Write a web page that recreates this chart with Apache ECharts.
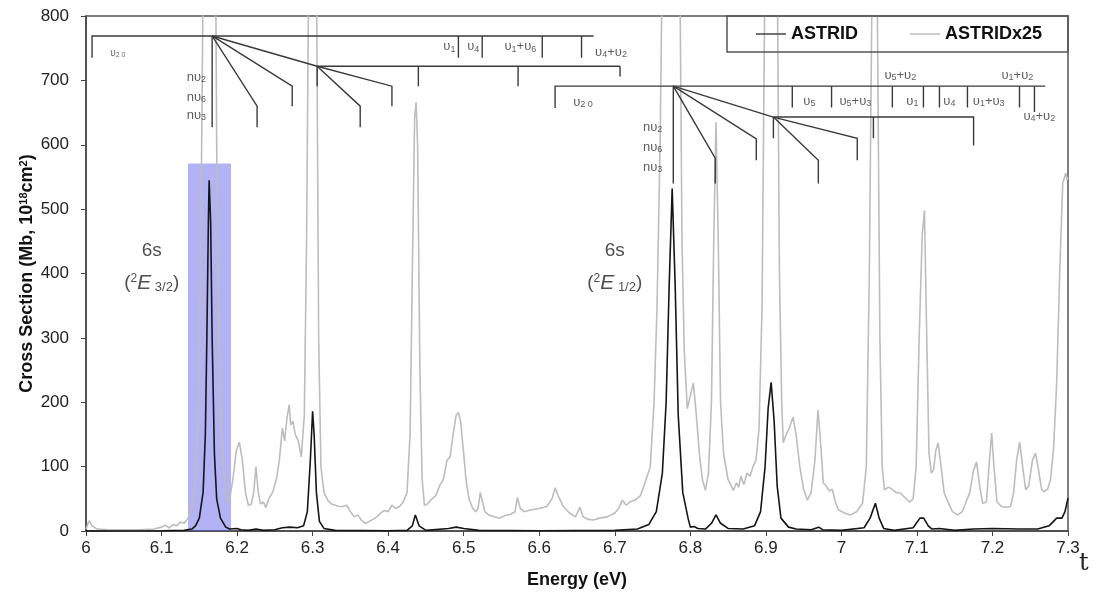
<!DOCTYPE html>
<html><head><meta charset="utf-8">
<script src="https://cdn.jsdelivr.net/npm/echarts@6/dist/echarts.min.js"></script>
<style>html,body{margin:0;padding:0;background:#fff}#c{width:1096px;height:601px}</style>
</head><body><div id="c"></div>
<script>
// ---------- DATA ----------
const seriesNames = ['ASTRID', 'ASTRIDx25'];
const xTickValues = [6, 6.1, 6.2, 6.3, 6.4, 6.5, 6.6, 6.7, 6.8, 6.9, 7, 7.1, 7.2, 7.3];
const yTickValues = [0, 100, 200, 300, 400, 500, 600, 700, 800];

// ASTRID (black) energy / cross-section
const astridE = [6.00,6.10,6.13,6.14,6.145,6.15,6.155,6.158,6.160,6.162,6.163,6.165,6.167,6.170,6.173,6.178,6.185,6.19,6.20,6.205,6.215,6.225,6.235,6.25,6.26,6.27,6.28,6.288,6.293,6.297,6.300,6.302,6.305,6.309,6.315,6.33,6.40,6.425,6.432,6.436,6.441,6.45,6.48,6.49,6.50,6.52,6.6,6.7,6.73,6.745,6.755,6.763,6.768,6.772,6.776,6.780,6.784,6.79,6.797,6.80,6.805,6.81,6.82,6.828,6.834,6.84,6.85,6.87,6.885,6.893,6.899,6.903,6.907,6.911,6.915,6.92,6.93,6.94,6.96,6.97,6.975,7.0,7.03,7.038,7.045,7.05,7.056,7.07,7.095,7.104,7.109,7.115,7.12,7.13,7.15,7.175,7.2,7.235,7.26,7.275,7.285,7.292,7.296,7.300];
const astridS = [0,0.5,1,3,8,20,60,150,300,480,545,480,300,120,50,20,6,3,4,2,1,3,1,2,5,6,5,8,30,110,186,150,60,15,4,1,0.5,1,8,25,8,1,4,6,4,1,0.5,1,3,10,30,90,200,380,532,380,180,60,20,6,7,4,3,12,25,12,4,3,8,30,100,190,231,170,70,20,6,3,2,6,2,1,5,20,43,20,4,1,5,20,20,8,3,4,1,3,4,3,3,8,20,20,30,51];

// ASTRID x 25 (grey)
const astrid25E = [6.000,6.004,6.008,6.015,6.03,6.05,6.07,6.09,6.10,6.105,6.11,6.115,6.12,6.125,6.13,6.135,6.14,6.145,6.149,6.152,6.155,6.16,6.165,6.17,6.173,6.176,6.179,6.182,6.185,6.188,6.191,6.195,6.199,6.203,6.207,6.211,6.215,6.219,6.222,6.225,6.228,6.231,6.235,6.238,6.242,6.247,6.252,6.256,6.26,6.263,6.266,6.269,6.271,6.274,6.277,6.281,6.285,6.289,6.292,6.295,6.30,6.305,6.308,6.311,6.315,6.32,6.325,6.33,6.335,6.34,6.345,6.35,6.355,6.36,6.365,6.37,6.375,6.38,6.385,6.39,6.395,6.40,6.405,6.41,6.415,6.42,6.425,6.429,6.432,6.435,6.437,6.439,6.442,6.445,6.448,6.452,6.458,6.463,6.468,6.473,6.478,6.482,6.486,6.49,6.493,6.496,6.50,6.503,6.507,6.512,6.516,6.519,6.522,6.525,6.528,6.533,6.54,6.548,6.555,6.562,6.568,6.571,6.575,6.58,6.59,6.60,6.61,6.617,6.621,6.625,6.632,6.64,6.648,6.654,6.658,6.665,6.672,6.68,6.69,6.70,6.705,6.71,6.715,6.72,6.727,6.734,6.74,6.747,6.752,6.756,6.76,6.763,6.77,6.776,6.782,6.786,6.789,6.792,6.796,6.80,6.804,6.808,6.812,6.816,6.82,6.824,6.828,6.831,6.834,6.837,6.84,6.844,6.85,6.857,6.861,6.864,6.867,6.871,6.875,6.879,6.883,6.887,6.891,6.895,6.899,6.907,6.915,6.918,6.921,6.923,6.927,6.931,6.936,6.94,6.945,6.95,6.955,6.96,6.965,6.969,6.973,6.976,6.98,6.984,6.988,6.992,6.996,7.004,7.012,7.02,7.028,7.033,7.037,7.041,7.044,7.047,7.051,7.054,7.057,7.062,7.066,7.072,7.078,7.084,7.09,7.095,7.099,7.103,7.107,7.11,7.113,7.116,7.119,7.122,7.125,7.128,7.132,7.136,7.14,7.147,7.154,7.16,7.165,7.17,7.175,7.179,7.183,7.187,7.192,7.196,7.199,7.202,7.206,7.212,7.218,7.224,7.228,7.232,7.236,7.24,7.244,7.248,7.253,7.257,7.261,7.265,7.268,7.273,7.277,7.281,7.285,7.289,7.293,7.297,7.299,7.30];
const astrid25S = [3,16,8,3,2,2,2,3,6,9,5,10,8,14,12,20,35,80,200,450,850,2000,3000,1200,600,300,160,100,60,45,55,85,125,138,110,60,40,42,60,100,60,42,45,36,50,60,80,110,160,140,175,196,165,170,150,140,115,180,450,900,4000,900,300,100,60,48,42,40,38,38,40,30,22,25,16,12,15,18,22,28,32,30,40,35,38,45,60,150,400,640,666,600,250,80,40,42,50,55,70,80,110,115,150,180,184,170,120,80,50,35,30,35,60,45,30,25,22,20,24,26,30,52,35,30,33,35,38,50,67,55,38,28,22,37,22,18,17,20,22,28,35,48,40,45,48,55,75,100,200,350,600,900,5000,13000,5000,900,450,280,190,210,230,180,120,80,63,90,200,450,635,450,200,120,80,63,75,68,85,72,90,85,100,110,160,350,900,6000,900,400,200,137,150,160,177,150,100,65,48,60,110,188,130,75,70,62,65,45,33,28,25,30,43,100,400,900,1100,900,300,100,64,68,66,60,59,52,45,50,100,300,460,498,300,120,90,95,125,137,100,60,48,30,25,30,45,60,95,107,70,43,45,110,152,100,45,38,37,38,60,110,138,100,64,70,110,121,95,65,61,65,80,130,230,400,540,556,545,550];

// highlighted region (energy range, cross-section top)
const highlightE = [6.135, 6.192];
const highlightTop = 571;

// vibrational progression combs, in (energy, cross section)
const combPaths = [
  // 6s(2E3/2) progression
  [[6.008,735],[6.008,769],[6.672,769]],
  [[6.167,769],[6.167,627]],
  [[6.493,769],[6.493,735]],
  [[6.5245,769],[6.5245,735]],
  [[6.604,769],[6.604,735]],
  [[6.656,769],[6.656,735]],
  [[6.167,769],[6.2265,660],[6.2265,627]],
  [[6.167,769],[6.273,691],[6.273,660]],
  [[6.167,769],[6.306,722]],
  [[6.306,722],[6.707,722]],
  [[6.306,722],[6.306,691]],
  [[6.44,722],[6.44,691]],
  [[6.572,722],[6.572,691]],
  [[6.707,722],[6.707,706]],
  [[6.306,722],[6.363,660],[6.363,627]],
  [[6.306,722],[6.405,691],[6.405,660]],
  // 6s(2E1/2) progression
  [[6.621,657],[6.621,691],[7.270,691]],
  [[6.7775,691],[6.7775,540]],
  [[6.7775,691],[6.833,579],[6.833,540]],
  [[6.7775,691],[6.8874,609],[6.8874,576]],
  [[6.7775,691],[6.910,643]],
  [[6.910,643],[7.175,643],[7.175,599]],
  [[6.910,643],[6.910,610]],
  [[7.0424,643],[7.0424,610]],
  [[6.910,643],[6.9695,576],[6.9695,540]],
  [[6.910,643],[7.021,610],[7.021,576]],
  [[6.935,691],[6.935,658]],
  [[6.987,691],[6.987,658]],
  [[7.0675,691],[7.0675,658]],
  [[7.1086,691],[7.1086,658]],
  [[7.1298,691],[7.1298,658]],
  [[7.1669,691],[7.1669,658]],
  [[7.2358,691],[7.2358,658]],
  [[7.2556,691],[7.2556,651]]
];

// comb labels: [energy, cross section, text]
const combLabelsCenter = [
  [6.481,752,'υ{s|1}'],[6.5126,752,'υ{s|4}'],[6.575,752,'υ{s|1}+υ{s|6}'],[6.695,744,'υ{s|4}+υ{s|2}'],
  [6.9576,668,'υ{s|5}'],[7.0185,668,'υ{s|5}+υ{s|3}'],[7.078,708,'υ{s|5}+υ{s|2}'],[7.094,668,'υ{s|1}'],
  [7.143,668,'υ{s|4}'],[7.195,668,'υ{s|1}+υ{s|3}'],[7.233,708,'υ{s|1}+υ{s|2}'],[7.262,644,'υ{s|4}+υ{s|2}']
];
const combLabelsRight = [
  [6.159,705,'nυ{s|2}'],[6.159,674,'nυ{s|6}'],[6.159,646,'nυ{s|3}'],
  [6.763,627,'nυ{s|2}'],[6.763,596,'nυ{s|6}'],[6.763,565,'nυ{s|3}']
];
const combLabelsLeft = [[6.032,742,'{t|υ}{ts|2 0}'],[6.645,666,'υ{s|2 0}']];
const stateLabels = [
  [6.087,436,'6s'],[6.087,385,'({sp|2}{it|E}{sb| 3/2})'],
  [6.700,436,'6s'],[6.700,385,'({sp|2}{it|E}{sb| 1/2})']
];

// ---------- CHART ----------
const zip = (a, b) => a.map((v, i) => [v, b[i]]);
const FONT = 'Liberation Sans, Arial, sans-serif';
const subRich = { s: { fontSize: 9, verticalAlign: 'bottom', fontFamily: FONT, color: '#333', padding: [5, 0, 0, 0] },
                  t: { fontSize: 10, fontFamily: FONT, color: '#444' },
                  ts: { fontSize: 7, fontFamily: FONT, color: '#444', padding: [3, 0, 0, 0] } };

function labelSeries(list, align, fontSize) {
  return {
    type: 'scatter', symbolSize: 1, silent: true, z: 6,
    itemStyle: { color: 'rgba(0,0,0,0)' },
    label: { show: true, position: 'inside', align: align, verticalAlign: 'middle',
      fontFamily: FONT, fontSize: fontSize, color: '#333', rich: subRich,
      formatter: p => p.data.txt },
    data: list.map(d => ({ value: [d[0], d[1]], txt: d[2] }))
  };
}

const chart = echarts.init(document.getElementById('c'));
chart.setOption({
  animation: false,
  backgroundColor: '#fff',
  grid: { left: 86, right: 28, top: 16, bottom: 70, show: true, borderColor: '#555', borderWidth: 1.5, backgroundColor: 'transparent' },
  legend: {
    data: seriesNames, left: 727, top: 16, padding: [8, 26, 8, 29], itemGap: 52,
    icon: 'rect', itemWidth: 30, itemHeight: 1.5, borderColor: '#555', borderWidth: 1.5,
    textStyle: { fontFamily: FONT, fontWeight: 'bold', fontSize: 18, color: '#111', lineHeight: 20 }
  },
  xAxis: {
    type: 'value', min: 6, max: 7.3, interval: 0.1,
    name: 'Energy (eV)', nameLocation: 'middle', nameGap: 40,
    nameTextStyle: { fontFamily: FONT, fontWeight: 'bold', fontSize: 18, color: '#111' },
    axisLine: { lineStyle: { color: '#444', width: 1.5 } },
    axisTick: { inside: false, length: 5, lineStyle: { color: '#444' } },
    axisLabel: { fontFamily: FONT, fontSize: 17, color: '#222', margin: 9,
      formatter: v => { const t = xTickValues.find(q => Math.abs(q - v) < 1e-6); return t === undefined ? '' : String(t); } },
    splitLine: { show: false }
  },
  yAxis: {
    type: 'value', min: 0, max: 800, interval: 100,
    name: 'Cross Section (Mb, 10{sp|18}cm{sp|2})', nameLocation: 'middle', nameGap: 49, nameMoveOverlap: false,
    nameTextStyle: { fontFamily: FONT, fontWeight: 'bold', fontSize: 18, color: '#111',
      rich: { sp: { fontSize: 11, fontWeight: 'bold', fontFamily: FONT, color: '#111', verticalAlign: 'top', padding: [0, 0, 8, 0] } } },
    axisLine: { show: true, lineStyle: { color: '#444', width: 1.5 } },
    axisTick: { show: true, inside: false, length: 5, lineStyle: { color: '#444' } },
    axisLabel: { fontFamily: FONT, fontSize: 17, color: '#222', margin: 17,
      formatter: v => yTickValues.includes(v) ? String(v) : '' },
    splitLine: { show: false }
  },
  series: [
    { name: seriesNames[1], type: 'line', data: zip(astrid25E, astrid25S), symbol: 'none', clip: true,
      lineStyle: { color: '#bdbdbd', width: 1.6 }, itemStyle: { color: '#bdbdbd' }, z: 2 },
    { name: seriesNames[0], type: 'line', data: zip(astridE, astridS), symbol: 'none', clip: true,
      lineStyle: { color: '#151515', width: 1.6 }, itemStyle: { color: '#444' }, z: 3 },
    { type: 'lines', coordinateSystem: 'cartesian2d', polyline: true, silent: true, z: 4,
      lineStyle: { color: '#3a3a3a', width: 1.4, opacity: 1 },
      data: combPaths.map(p => ({ coords: p })) },
    { type: 'line', data: [], silent: true, z: 8,
      markArea: { silent: true, itemStyle: { color: 'rgba(95,95,235,0.48)' },
        data: [[{ coord: [highlightE[0], 0] }, { coord: [highlightE[1], highlightTop] }]] } },
    labelSeries(combLabelsCenter, 'center', 13),
    labelSeries(combLabelsRight, 'right', 13),
    labelSeries(combLabelsLeft, 'left', 13),
    {
      type: 'scatter', symbolSize: 1, silent: true, z: 6, itemStyle: { color: 'rgba(0,0,0,0)' },
      label: { show: true, position: 'inside', align: 'center', verticalAlign: 'middle',
        fontFamily: FONT, fontSize: 19, color: '#222', formatter: p => p.data.txt,
        rich: { sp: { fontSize: 12, fontFamily: FONT, color: '#222', verticalAlign: 'top', padding: [0,0,9,0] },
                it: { fontSize: 21, fontStyle: 'italic', fontFamily: FONT, color: '#222' },
                sb: { fontSize: 13, fontFamily: FONT, color: '#222', verticalAlign: 'bottom', padding: [7,0,0,0] } } },
      data: stateLabels.map(d => ({ value: [d[0], d[1]], txt: d[2] }))
    }
  ],
  graphic: [
    { type: 'text', left: 1079, top: 552, style: { text: 't', font: '24px "DejaVu Serif", serif', fill: '#222' } }
  ]
});
</script>
</body></html>
